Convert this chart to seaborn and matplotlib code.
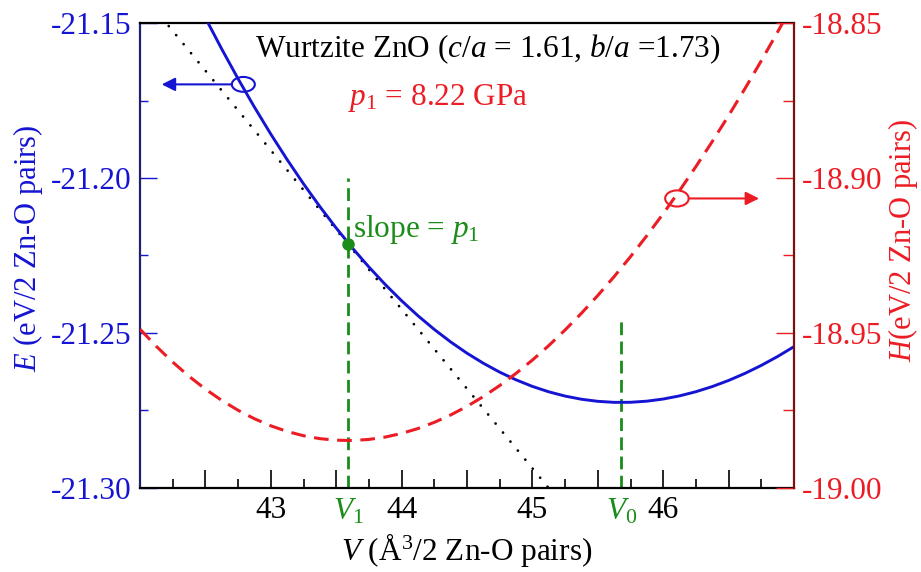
import matplotlib
matplotlib.use("Agg")
import matplotlib.pyplot as plt
from matplotlib.patches import Ellipse
from matplotlib.ticker import FixedLocator, MultipleLocator
import seaborn as sns

# ---- data -------------------------------------------------------------
# Total energy E(V) of wurtzite ZnO (eV / 2 Zn-O pairs)
volume_E = [42.500, 42.625, 42.750, 42.875, 43.000, 43.125, 43.250, 43.375,
            43.500, 43.625, 43.750, 43.875, 44.000, 44.125, 44.250, 44.375,
            44.500, 44.625, 44.750, 44.875, 45.000, 45.125, 45.250, 45.375,
            45.500, 45.625, 45.750, 45.875, 46.000, 46.125, 46.250, 46.375,
            46.500, 46.625, 46.750, 46.875, 47.000]
energy = [-21.14835, -21.15841, -21.16801, -21.17715, -21.18584, -21.19407,
          -21.20187, -21.20922, -21.21614, -21.22264, -21.22871, -21.23436,
          -21.23960, -21.24443, -21.24885, -21.25288, -21.25652, -21.25976,
          -21.26263, -21.26511, -21.26723, -21.26897, -21.27035, -21.27137,
          -21.27204, -21.27237, -21.27235, -21.27199, -21.27130, -21.27028,
          -21.26894, -21.26728, -21.26531, -21.26303, -21.26045, -21.25757,
          -21.25440]

# Enthalpy H(V) = E + p1 V at p1 (eV / 2 Zn-O pairs)
volume_H = [42.000, 42.125, 42.250, 42.375] + volume_E
enthalpy = [-18.94876, -18.95432, -18.95938, -18.96398, -18.96810, -18.97175,
            -18.97493, -18.97766, -18.97994, -18.98176, -18.98314, -18.98408,
            -18.98459, -18.98468, -18.98433, -18.98357, -18.98240, -18.98082,
            -18.97882, -18.97644, -18.97367, -18.97050, -18.96695, -18.96302,
            -18.95873, -18.95406, -18.94902, -18.94363, -18.93789, -18.93181,
            -18.92537, -18.91860, -18.91150, -18.90407, -18.89631, -18.88824,
            -18.87986, -18.87117, -18.86217, -18.85288, -18.84330]

p1_gpa = 8.22            # pressure for the tangent construction
V1 = 43.59               # volume where dE/dV = -p1
E1 = -21.2213            # energy at V1
V0 = 45.68               # equilibrium volume
V1_line_top = -21.20
V0_line_top = -21.245

x_ticks = [42.0, 42.5, 43.0, 43.5, 44.0, 44.5, 45.0, 45.5, 46.0, 46.5, 47.0]
x_labels = ["", "", "43", "", "44", "", "45", "", "46", "", ""]
E_ticks = [-21.30, -21.25, -21.20, -21.15]
H_ticks = [-19.00, -18.95, -18.90, -18.85]

EV_PER_A3_PER_GPA = 1.0 / 160.21766

# ---- style ------------------------------------------------------------
BLUE = "#1414d2"
RED = "#ec1c24"
GREEN = "#1a8c1a"
NAVY = "#20206e"
DARKRED = "#7a1010"

sns.set_theme(style="white")
plt.rcParams["font.family"] = ["Liberation Serif", "DejaVu Serif"]
plt.rcParams["mathtext.fontset"] = "custom"
plt.rcParams["mathtext.rm"] = "Liberation Serif"
plt.rcParams["mathtext.it"] = "Liberation Serif:italic"

FS = 22.5
LABEL_FS = 22

fig = plt.figure(figsize=(9.21, 5.72), dpi=100)
ax = fig.add_axes([140 / 921, 84 / 572, 654 / 921, 465 / 572])
ax2 = ax.twinx()

# ---- curves -----------------------------------------------------------
slope = -p1_gpa * EV_PER_A3_PER_GPA
tan_V = [42.0, 47.0]
tan_E = [E1 + slope * (v - V1) for v in tan_V]
ax.plot(tan_V, tan_E, color="black", lw=2.0, linestyle=(0, (0.01, 4.2)),
        dash_capstyle="round", zorder=2)

sns.lineplot(x=volume_E, y=energy, ax=ax, color=BLUE, lw=2.1, zorder=3)

ax.plot([V1, V1], [-21.30, V1_line_top], color=GREEN, lw=2.0,
        linestyle=(0, (4.6, 2.3)), zorder=2)
ax.plot([V0, V0], [-21.30, V0_line_top], color=GREEN, lw=2.0,
        linestyle=(0, (4.6, 2.3)), zorder=2)
ax.plot([V1], [E1], "o", color=GREEN, ms=8, zorder=4)

sns.lineplot(x=volume_H, y=enthalpy, ax=ax2, color=RED, lw=2.2,
             linestyle=(0, (4.8, 2.8)))

# ---- axes -------------------------------------------------------------
ax.set_xlim(42, 47)
ax.set_ylim(-21.30, -21.15)
ax2.set_ylim(-19.00, -18.85)

ax.xaxis.set_major_locator(FixedLocator(x_ticks))
ax.set_xticklabels(x_labels)
ax.xaxis.set_minor_locator(MultipleLocator(0.25))
ax.yaxis.set_major_locator(FixedLocator(E_ticks))
ax.set_yticklabels([f"{t:.2f}" for t in E_ticks])
ax.yaxis.set_minor_locator(MultipleLocator(0.025))
ax2.yaxis.set_major_locator(FixedLocator(H_ticks))
ax2.set_yticklabels([f"{t:.2f}" for t in H_ticks])
ax2.yaxis.set_minor_locator(MultipleLocator(0.025))

ax.tick_params(axis="x", which="both", direction="in", bottom=True, top=False,
               colors="black", labelsize=FS, pad=6, width=1.2)
ax.tick_params(axis="x", which="major", length=13)
ax.tick_params(axis="x", which="minor", length=6.5)
ax.tick_params(axis="y", which="both", direction="in", left=True, right=False,
               colors=BLUE, labelsize=FS, pad=6, width=1.0)
ax.tick_params(axis="y", which="major", length=12)
ax.tick_params(axis="y", which="minor", length=6)
ax2.tick_params(axis="y", which="both", direction="in", right=True, left=False,
                colors=RED, labelsize=FS, pad=6, width=1.0)
ax2.tick_params(axis="y", which="major", length=13)
ax2.tick_params(axis="y", which="minor", length=8)

for s in ("top", "bottom"):
    ax.spines[s].set_color("black")
    ax.spines[s].set_linewidth(1.6)
ax.spines["left"].set_color(NAVY)
ax.spines["left"].set_linewidth(1.6)
ax.spines["right"].set_visible(False)
for s in ("top", "bottom", "left"):
    ax2.spines[s].set_visible(False)
ax2.spines["right"].set_color(DARKRED)
ax2.spines["right"].set_linewidth(1.6)

ax.set_xlabel(r"$V$ (Å$^{3}$/2 Zn-O pairs)", fontsize=FS, color="black",
              labelpad=4)
ax.set_ylabel(r"$E$ (eV/2 Zn-O pairs)", fontsize=LABEL_FS, color=BLUE)
ax.yaxis.set_label_coords(-0.146, 0.516)
ax2.set_ylabel(r"$H$(eV/2 Zn-O pairs)", fontsize=LABEL_FS, color=RED)
ax2.yaxis.set_label_coords(1.141, 0.533)

# V1 / V0 markers under the axis
xt = ax.get_xaxis_transform()
ax.text(V1, -0.02, r"$V_1$", transform=xt, ha="center", va="top",
        fontsize=FS, color=GREEN)
ax.text(V0, -0.02, r"$V_0$", transform=xt, ha="center", va="top",
        fontsize=FS, color=GREEN)

# ---- annotations ------------------------------------------------------
ax.text(0.531, 0.927, r"Wurtzite ZnO ($c/a$ = 1.61, $b/a$ =1.73)",
        transform=ax.transAxes, ha="center", va="baseline", fontsize=FS,
        color="black")
ax2.text(0.318, 0.824, r"$p_1$ = 8.22 GPa", transform=ax.transAxes,
         ha="left", va="baseline", fontsize=FS, color=RED)
ax.text(0.326, 0.540, r"slope = $p_1$", transform=ax.transAxes,
        ha="left", va="baseline", fontsize=FS, color=GREEN)

# which curve belongs to which axis
E_mark_V, E_mark_E = 42.79, -21.1698
ax.add_patch(Ellipse((E_mark_V, E_mark_E), 0.176, 0.0048, fill=False,
                     edgecolor=BLUE, lw=1.5, zorder=5))
ax.annotate("", xy=(42.166, E_mark_E), xytext=(E_mark_V - 0.088, E_mark_E),
            arrowprops=dict(arrowstyle="-|>", color=BLUE, lw=1.5,
                            mutation_scale=20, shrinkA=0, shrinkB=0))
H_mark_V, H_mark_H = 46.105, -18.9066
ax2.add_patch(Ellipse((H_mark_V, H_mark_H), 0.18, 0.0052, fill=False,
                      edgecolor=RED, lw=1.5, zorder=5))
ax2.annotate("", xy=(46.733, H_mark_H), xytext=(H_mark_V + 0.09, H_mark_H),
             arrowprops=dict(arrowstyle="-|>", color=RED, lw=1.5,
                             mutation_scale=20, shrinkA=0, shrinkB=0))

fig.savefig("out.png", dpi=100)
